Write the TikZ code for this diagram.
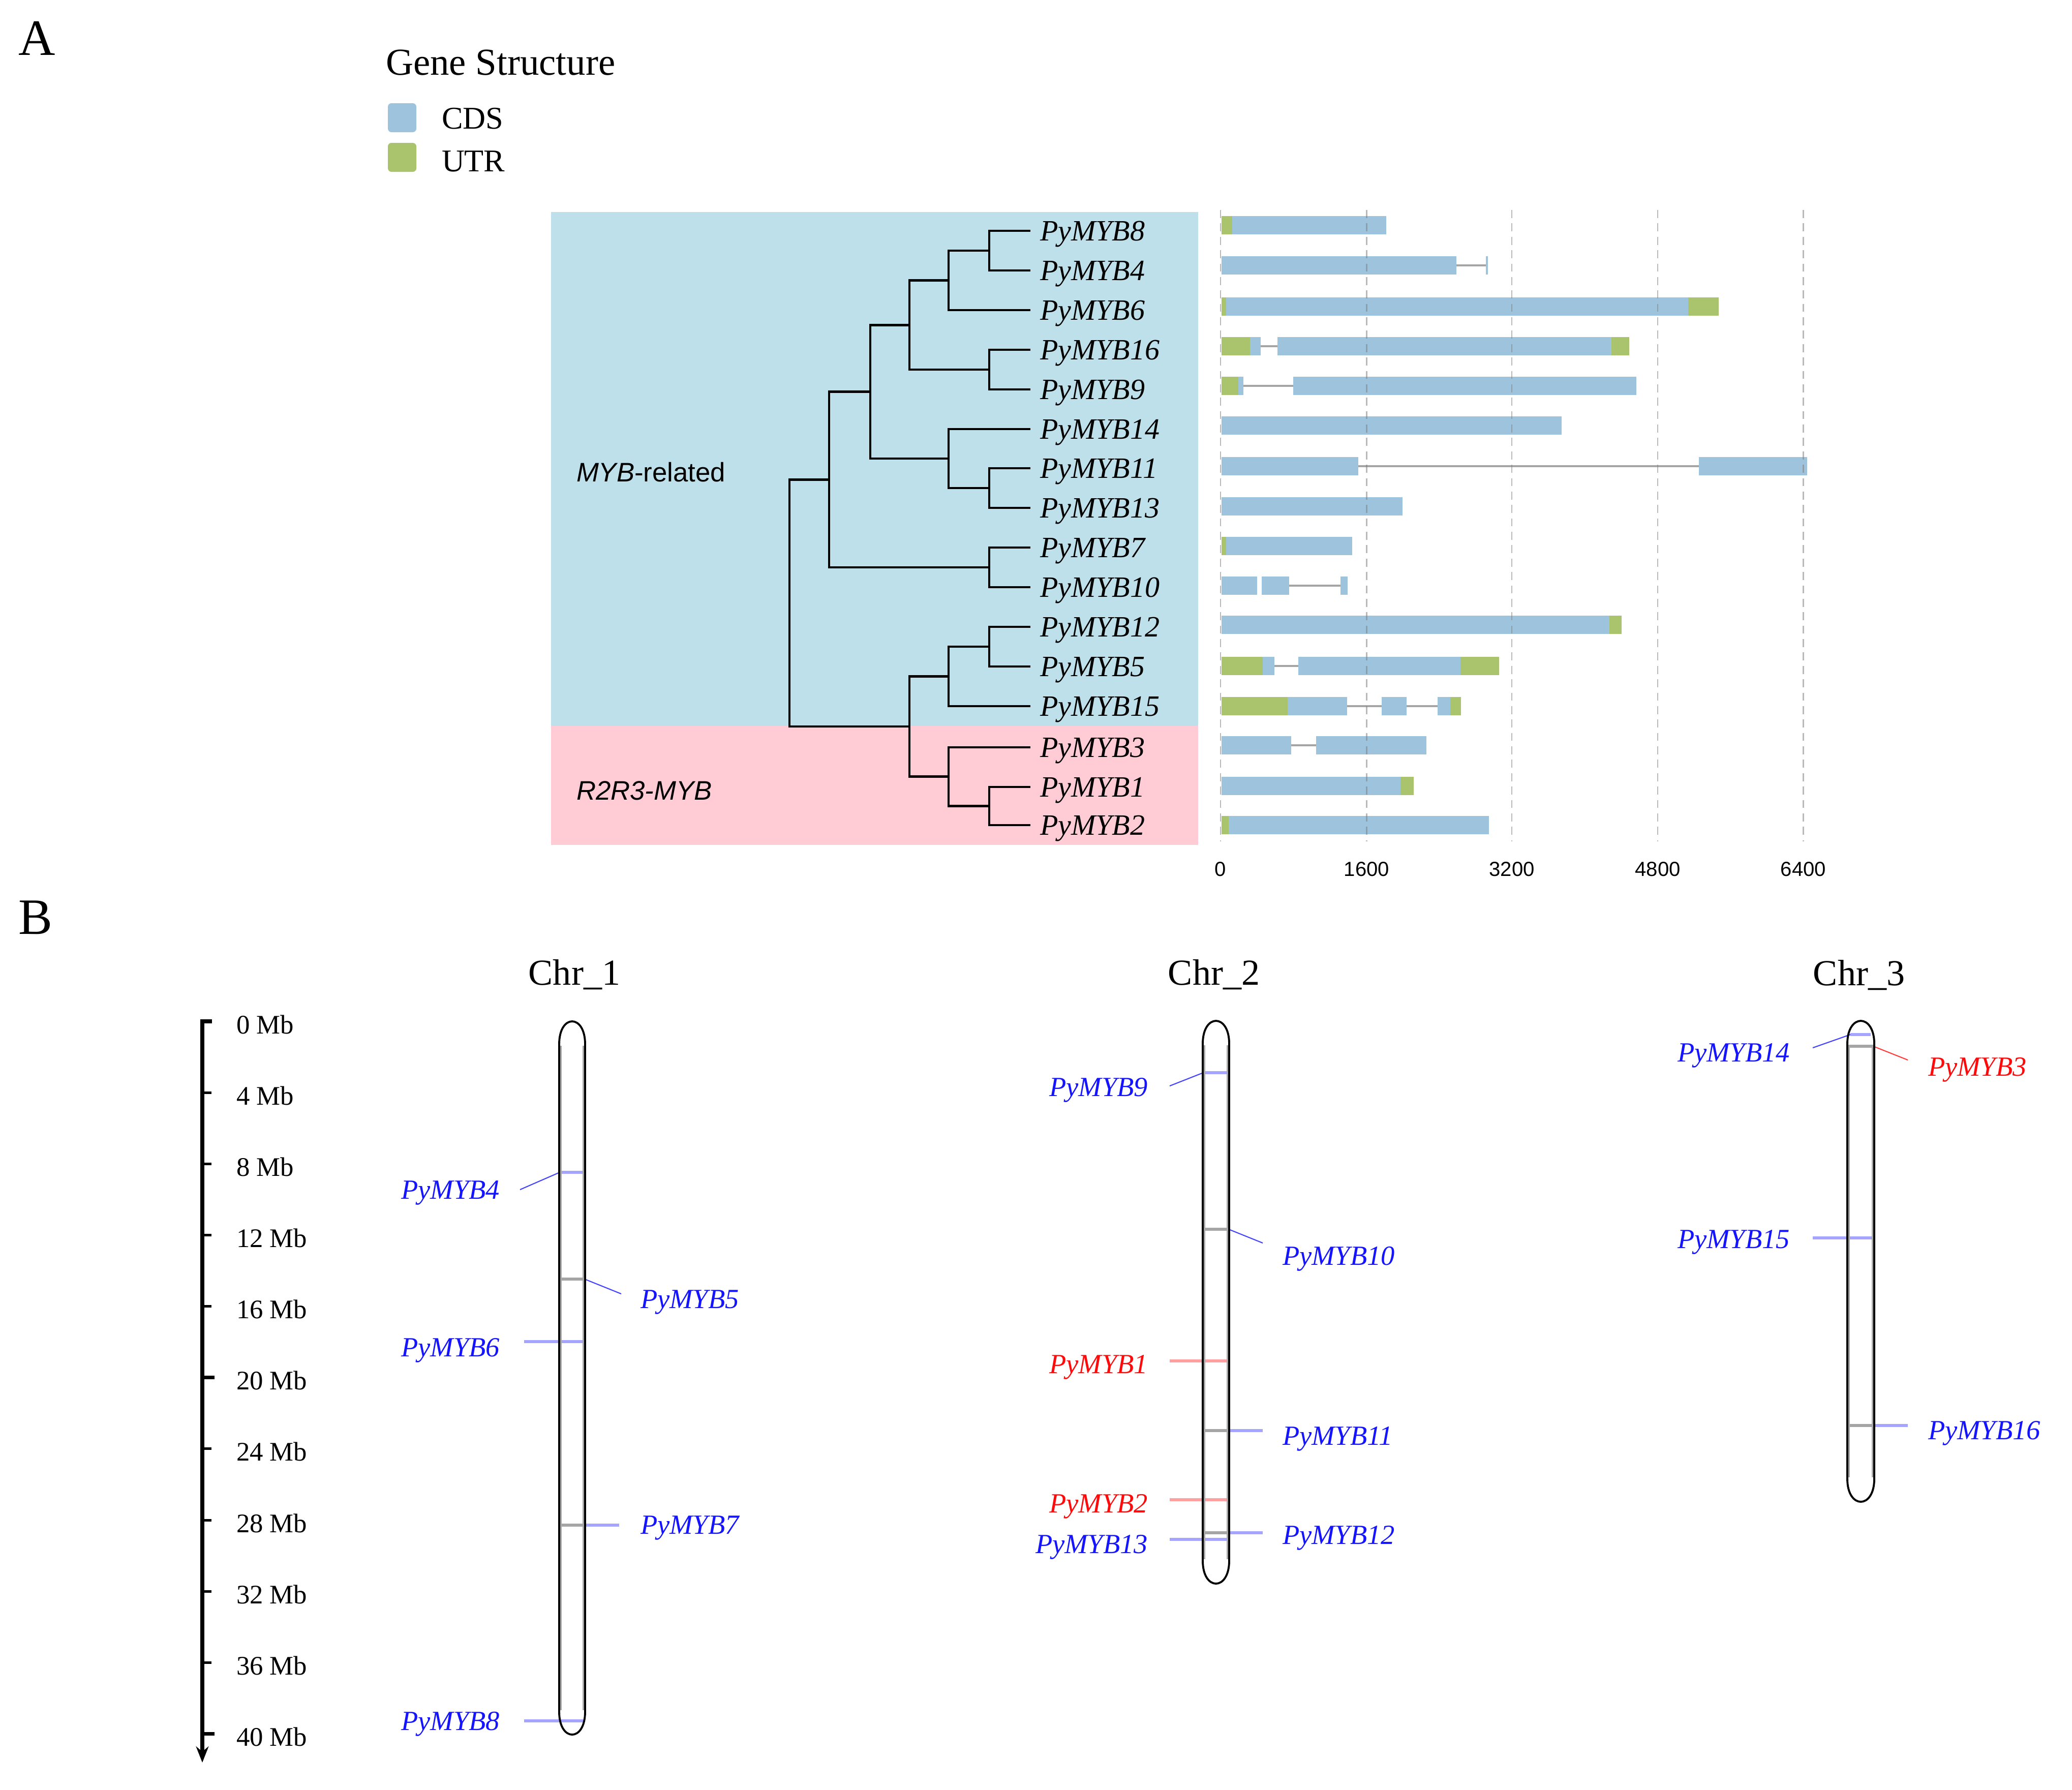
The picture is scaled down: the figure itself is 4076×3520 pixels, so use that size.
\documentclass[tikz,border=0pt]{standalone}
\usepackage{fontspec}
\setmainfont{Liberation Serif}
\newfontfamily\sansf{Liberation Sans}
\usetikzlibrary{arrows.meta}
\definecolor{cdsc}{RGB}{158,196,221}
\definecolor{utrc}{RGB}{169,196,108}
\definecolor{bgb}{RGB}{190,224,234}
\definecolor{bgp}{RGB}{255,204,213}
\definecolor{lblue}{RGB}{165,165,255}
\definecolor{lred}{RGB}{255,160,160}
\definecolor{mgray}{RGB}{165,165,165}
\definecolor{labblue}{RGB}{20,20,255}
\definecolor{labred}{RGB}{255,10,10}
\newcommand\gseg[4]{\fill[#4] (#2,#1-18) rectangle (#3,#1+18);}
\newcommand\gint[3]{\draw[intron] (#2,#1) -- (#3,#1);}
\newcommand\chromo[4]{%
\draw[chrin] (#1+2.5,#3+48) -- (#1+2.5,#4-48) (#2-2.5,#3+48) -- (#2-2.5,#4-48);
\draw[chrline] (#1,#3+45) .. controls (#1,#3-15) and (#2,#3-15) .. (#2,#3+45) -- (#2,#4-45) .. controls (#2,#4+15) and (#1,#4+15) .. (#1,#4-45) -- cycle;}
\begin{document}
\begin{tikzpicture}[x=0.01cm,y=-0.01cm,
  every node/.style={inner sep=0pt,outer sep=0pt},
  tree/.style={line width=1.4pt,line cap=rect},
  leaf/.style={anchor=base west,font=\fontsize{16.5}{19}\selectfont\itshape},
  chl/.style={font=\fontsize{15.5}{18}\selectfont\itshape,text=labblue},
  chlr/.style={font=\fontsize{15.5}{18}\selectfont\itshape,text=labred},
  mbl/.style={anchor=base west,font=\fontsize{15}{18}\selectfont},
  axl/.style={anchor=base,font=\sansf\fontsize{11.4}{13}\selectfont},
  intron/.style={draw=mgray,line width=0.9pt},
  gridl/.style={draw=gray,opacity=0.55,line width=0.6pt,dash pattern=on 4.5pt off 3pt},
  mkb/.style={draw=lblue,line width=1.7pt},
  mkr/.style={draw=lred,line width=1.7pt},
  mkg/.style={draw=mgray,line width=1.7pt},
  cnb/.style={draw=labblue!80,line width=0.6pt},
  cnr/.style={draw=labred!80,line width=0.6pt},
  chrline/.style={draw=black,line width=1.1pt},
  chrin/.style={draw=gray!70,line width=1.2pt},
]
\fill[white] (0,0) rectangle (4076,3520);
\useasboundingbox (0,0) rectangle (4076,3520);

% ---------------- Panel A ----------------
\node[anchor=base west,font=\fontsize{28.5}{32}\selectfont] (pA) at (37,108) {A};
\node[anchor=base west,font=\fontsize{21.3}{25}\selectfont] (gs) at (759,147) {Gene Structure};
\fill[cdsc,rounded corners=2pt] (763,203) rectangle (819,260);
\node[anchor=base west,font=\fontsize{17.7}{21}\selectfont] (lcds) at (869,253) {CDS};
\fill[utrc,rounded corners=2pt] (763,281) rectangle (819,338);
\node[anchor=base west,font=\fontsize{17.7}{21}\selectfont] (lutr) at (869,337) {UTR};

% backgrounds
\fill[bgb] (1084,417) rectangle (2357,1428);
\fill[bgp] (1084,1428) rectangle (2357,1662);
\node[anchor=base west,font=\sansf\fontsize{15}{18}\selectfont] (myb) at (1134,947) {\itshape MYB\upshape-related};
\node[anchor=base west,font=\sansf\itshape\fontsize{15}{18}\selectfont] (r2r3) at (1134,1573) {R2R3-MYB};

% tree coordinates
\foreach \n/\y in {8/454,4/532,6/610,16/688,9/766,14/844,11/921,13/999,7/1077,10/1155,12/1233,5/1311,15/1389,3/1470,1/1548,2/1623}{
  \coordinate (l\n) at (2025,\y);
  \node[leaf] (t\n) at (2046,\y+19) {PyMYB\n};
}
\coordinate (n84) at (1946,493);
\coordinate (nG) at (1866,551.5);
\coordinate (n169) at (1946,727);
\coordinate (nE) at (1789,639.25);
\coordinate (n1113) at (1946,960);
\coordinate (nF) at (1866,902);
\coordinate (nC) at (1712,770.6);
\coordinate (n710) at (1946,1116);
\coordinate (nA) at (1631,943.3);
\coordinate (n125) at (1946,1272);
\coordinate (nI) at (1866,1330.5);
\coordinate (n12) at (1946,1585.5);
\coordinate (nJ) at (1866,1527.75);
\coordinate (nB) at (1789,1429);
\coordinate (nR) at (1553,1186);
\foreach \p/\c in {nR/nA,nR/nB,nA/nC,nA/n710,nC/nE,nC/nF,nE/nG,nE/n169,nG/n84,nG/l6,n84/l8,n84/l4,n169/l16,n169/l9,nF/l14,nF/n1113,n1113/l11,n1113/l13,n710/l7,n710/l10,nB/nI,nB/nJ,nI/n125,nI/l15,n125/l12,n125/l5,nJ/l3,nJ/n12,n12/l1,n12/l2}{
  \draw[tree] (\p) |- (\c);
}

% gene structures
% R1 PyMYB8
\gseg{443}{2403}{2424}{utrc}\gseg{443}{2424}{2727}{cdsc}
% R2 PyMYB4
\gint{522}{2865}{2923}
\gseg{522}{2403}{2865}{cdsc}\gseg{522}{2923}{2926.5}{cdsc}
% R3 PyMYB6
\gseg{603}{2403}{2411.5}{utrc}\gseg{603}{2411.5}{3321}{cdsc}\gseg{603}{3321}{3381}{utrc}
% R4 PyMYB16
\gint{681}{2479.5}{2512.7}
\gseg{681}{2403}{2459}{utrc}\gseg{681}{2459}{2479.5}{cdsc}\gseg{681}{2512.7}{3170}{cdsc}\gseg{681}{3170}{3205}{utrc}
% R5 PyMYB9
\gint{759}{2446.3}{2544}
\gseg{759}{2403}{2435.6}{utrc}\gseg{759}{2435.6}{2446.3}{cdsc}\gseg{759}{2544}{3219}{cdsc}
% R6 PyMYB14
\gseg{837}{2403}{3072.4}{cdsc}
% R7 PyMYB11
\gint{917}{2672}{3342}
\gseg{917}{2403}{2672}{cdsc}\gseg{917}{3342}{3555}{cdsc}
% R8 PyMYB13
\gseg{996}{2403}{2759}{cdsc}
% R9 PyMYB7
\gseg{1074}{2403}{2411.5}{utrc}\gseg{1074}{2411.5}{2660}{cdsc}
% R10 PyMYB10
\gint{1152}{2536}{2637}
\gseg{1152}{2403}{2473}{cdsc}\gseg{1152}{2482}{2536}{cdsc}\gseg{1152}{2637}{2651}{cdsc}
% R11 PyMYB12
\gseg{1229}{2403}{3166}{cdsc}\gseg{1229}{3166}{3190}{utrc}
% R12 PyMYB5
\gint{1310}{2507}{2554}
\gseg{1310}{2403}{2483.6}{utrc}\gseg{1310}{2483.6}{2507}{cdsc}\gseg{1310}{2554}{2873.4}{cdsc}\gseg{1310}{2873.4}{2949}{utrc}
% R13 PyMYB15
\gint{1389}{2650.3}{2717.5}\gint{1389}{2767.2}{2827.8}
\gseg{1389}{2403}{2533.4}{utrc}\gseg{1389}{2533.4}{2650.3}{cdsc}\gseg{1389}{2717.5}{2767.2}{cdsc}\gseg{1389}{2827.8}{2852.6}{cdsc}\gseg{1389}{2852.6}{2874}{utrc}
% R14 PyMYB3
\gint{1466}{2540}{2589}
\gseg{1466}{2403}{2540}{cdsc}\gseg{1466}{2589}{2806}{cdsc}
% R15 PyMYB1
\gseg{1546}{2403}{2755}{cdsc}\gseg{1546}{2755}{2780.5}{utrc}
% R16 PyMYB2
\gseg{1623}{2403}{2417}{utrc}\gseg{1623}{2417}{2929}{cdsc}

% grid + axis
\foreach \x/\lab in {2401/0,2688.5/1600,2974/3200,3261/4800,3547.5/6400}{
  \draw[gridl] (\x,413) -- (\x,1655);
  \node[axl] (ax\lab) at (\x,1723) {\lab};
}

% ---------------- Panel B ----------------
\node[anchor=base west,font=\fontsize{28.5}{32}\selectfont] (pB) at (37,1837) {B};
\node[anchor=base,font=\fontsize{20.5}{24}\selectfont] (chr1) at (1130,1937) {Chr\_1};
\node[anchor=base,font=\fontsize{20.5}{24}\selectfont] (chr2) at (2388,1937) {Chr\_2};
\node[anchor=base,font=\fontsize{20.5}{24}\selectfont] (chr3) at (3657,1938) {Chr\_3};

% scale bar
\draw[line width=2.2pt,-{Stealth[length=9pt,width=7pt]}] (417,2009) -- (398,2009) -- (398,3467);
\foreach \i in {1,...,10}{
  \draw[line width=1.4pt] (398,2009+140.15*\i) -- (416,2009+140.15*\i);
}
\foreach \i/\t in {0/0 Mb,1/4 Mb,2/8 Mb,3/12 Mb,4/16 Mb,5/20 Mb,6/24 Mb,7/28 Mb,8/32 Mb,9/36 Mb,10/40 Mb}{
  \node[mbl] (mb\i) at (465,2009+140.15*\i+24) {\t};
}
\draw[line width=2pt] (398,2709.75) -- (422,2709.75);
\draw[line width=2pt] (398,3410.5) -- (422,3410.5);

% Chr1 markers
\draw[mkb] (1101,2306) coordinate (m4) -- (1150,2306);
\draw[cnb] (m4) -- (1023,2340) coordinate (e4);
\draw[mkg] (1101,2516) -- (1150,2516) coordinate (m5);
\draw[cnb] (m5) -- (1222,2545) coordinate (e5);
\draw[mkb] (1031,2639) coordinate (e6) -- (1150,2639);
\draw[mkg] (1101,3000) -- (1150,3000) coordinate (m7);
\draw[mkb] (m7) -- (1218,3000) coordinate (e7);
\draw[mkb] (1031,3385) coordinate (e8) -- (1148,3385);
\chromo{1100}{1151}{2009}{3412}
\node[chl,anchor=base east] (c4) at (983,2358) {PyMYB4};
\node[chl,anchor=base west] (c5) at (1260,2573) {PyMYB5};
\node[chl,anchor=base east] (c6) at (983,2668) {PyMYB6};
\node[chl,anchor=base west] (c7) at (1260,3017) {PyMYB7};
\node[chl,anchor=base east] (c8) at (983,3403) {PyMYB8};

% Chr2 markers
\draw[mkb] (2367,2110) coordinate (m9) -- (2417,2110);
\draw[cnb] (m9) -- (2301,2136) coordinate (e9);
\draw[mkg] (2367,2418) -- (2417,2418) coordinate (m10);
\draw[cnb] (m10) -- (2484,2445) coordinate (e10);
\draw[mkr] (2301,2677) coordinate (e1) -- (2417,2677);
\draw[mkg] (2367,2814) -- (2417,2814) coordinate (m11);
\draw[mkb] (m11) -- (2484,2814) coordinate (e11);
\draw[mkr] (2301,2950) coordinate (e2) -- (2417,2950);
\draw[mkg] (2367,3015) -- (2417,3015) coordinate (m12);
\draw[mkb] (m12) -- (2484,3015) coordinate (e12);
\draw[mkb] (2301,3028) coordinate (e13) -- (2417,3028);
\chromo{2366}{2418}{2008}{3115}
\node[chl,anchor=base east] (c9) at (2258,2156) {PyMYB9};
\node[chl,anchor=base west] (c10) at (2523,2488) {PyMYB10};
\node[chlr,anchor=base east] (c1) at (2258,2701) {PyMYB1};
\node[chl,anchor=base west] (c11) at (2523,2842) {PyMYB11};
\node[chlr,anchor=base east] (c2) at (2258,2975) {PyMYB2};
\node[chl,anchor=base west] (c12) at (2523,3037) {PyMYB12};
\node[chl,anchor=base east] (c13) at (2258,3055) {PyMYB13};

% Chr3 markers
\draw[mkb] (3640,2035) coordinate (m14) -- (3680,2035);
\draw[cnb] (m14) -- (3566,2061) coordinate (e14);
\draw[mkg] (3636,2058) -- (3685,2058) coordinate (m3);
\draw[cnr] (m3) -- (3753,2085) coordinate (e3);
\draw[mkb] (3566,2435) coordinate (e15) -- (3686,2435);
\draw[mkg] (3635,2804) -- (3686,2804) coordinate (m16);
\draw[mkb] (m16) -- (3753,2804) coordinate (e16);
\chromo{3634}{3687}{2008}{2954}
\node[chl,anchor=base east] (c14) at (3521,2088) {PyMYB14};
\node[chlr,anchor=base west] (c3) at (3793,2116) {PyMYB3};
\node[chl,anchor=base east] (c15) at (3521,2455) {PyMYB15};
\node[chl,anchor=base west] (c16) at (3793,2831) {PyMYB16};
\end{tikzpicture}
\end{document}
